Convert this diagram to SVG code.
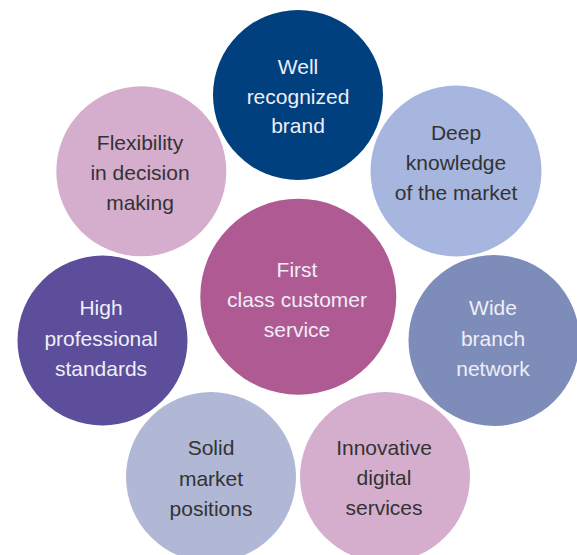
<svg xmlns="http://www.w3.org/2000/svg" width="577" height="555" viewBox="0 0 577 555">
<style>
text{font-family:"Liberation Sans",Arial,sans-serif;font-size:21px;text-anchor:middle}
.w{fill:#eeeef6}
.d{fill:#333333}
</style>
<rect width="577" height="555" fill="#ffffff"/>
<g id="connectors"/>
<g id="brand">
<circle cx="298" cy="95" r="85" fill="#00407e"/>
<text class="w" x="298" y="74">Well</text>
<text class="w" x="298" y="104">recognized</text>
<text class="w" x="298" y="133">brand</text>
</g>
<g id="knowledge">
<circle cx="456" cy="171" r="85.5" fill="#a6b6de"/>
<text class="d" x="456" y="140">Deep</text>
<text class="d" x="456" y="170">knowledge</text>
<text class="d" x="456" y="200">of the market</text>
</g>
<g id="branch">
<circle cx="494" cy="340.5" r="85.5" fill="#7e8cba"/>
<text class="w" x="493" y="315">Wide</text>
<text class="w" x="493" y="346">branch</text>
<text class="w" x="493" y="376">network</text>
</g>
<g id="digital">
<circle cx="385" cy="477" r="85" fill="#d5aecd"/>
<text class="d" x="384" y="455">Innovative</text>
<text class="d" x="384" y="485">digital</text>
<text class="d" x="384" y="515">services</text>
</g>
<g id="positions">
<circle cx="211" cy="477" r="85" fill="#b0b8d6"/>
<text class="d" x="211" y="455">Solid</text>
<text class="d" x="211" y="486">market</text>
<text class="d" x="211" y="516">positions</text>
</g>
<g id="standards">
<circle cx="102.5" cy="340.5" r="85" fill="#5c4e9b"/>
<text class="w" x="101" y="315">High</text>
<text class="w" x="101" y="346">professional</text>
<text class="w" x="101" y="376">standards</text>
</g>
<g id="flexibility">
<circle cx="141.3" cy="171.3" r="85" fill="#d5aecd"/>
<text class="d" x="140" y="150">Flexibility</text>
<text class="d" x="140" y="180">in decision</text>
<text class="d" x="140" y="210">making</text>
</g>
<g id="service">
<circle cx="298.3" cy="296.7" r="98" fill="#b05a93"/>
<text class="w" x="297" y="277">First</text>
<text class="w" x="297" y="307">class customer</text>
<text class="w" x="297" y="337">service</text>
</g>
</svg>
